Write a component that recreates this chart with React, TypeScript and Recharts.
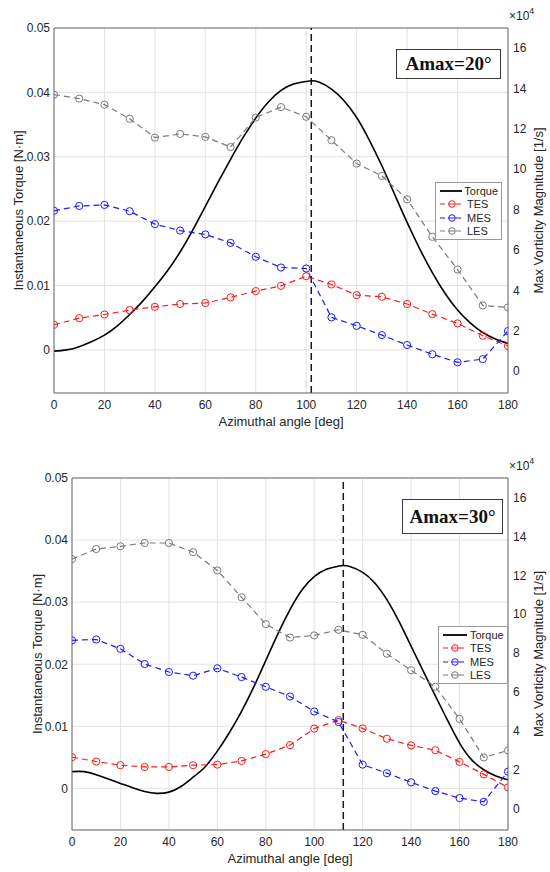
import React from 'react';
import {
  LineChart, Line, XAxis, YAxis, CartesianGrid, ReferenceLine, Legend,
} from 'recharts';

// azimuthal angles of the CFD snapshots [deg]
const angles = [0, 10, 20, 30, 40, 50, 60, 70, 80, 90, 100, 110, 120, 130, 140, 150, 160, 170, 180];

// Amax = 20 deg, max vorticity [x1e4 1/s]
const tes20 = [2.29, 2.62, 2.8, 3.02, 3.18, 3.32, 3.37, 3.65, 3.96, 4.22, 4.7, 4.29, 3.76, 3.68, 3.32, 2.82, 2.36, 1.75, 1.24];
const mes20 = [7.94, 8.18, 8.23, 7.92, 7.28, 6.96, 6.77, 6.35, 5.66, 5.13, 5.08, 2.66, 2.24, 1.78, 1.29, 0.83, 0.43, 0.59, 1.98];
const les20 = [13.7, 13.5, 13.2, 12.5, 11.57, 11.75, 11.6, 11.1, 12.56, 13.08, 12.6, 11.44, 10.28, 9.67, 8.51, 6.65, 5.03, 3.25, 3.15];

// Amax = 30 deg
const tes30 = [2.65, 2.43, 2.24, 2.15, 2.15, 2.24, 2.27, 2.46, 2.81, 3.27, 4.12, 4.56, 4.13, 3.6, 3.26, 3.01, 2.41, 1.77, 1.1];
const mes30 = [8.66, 8.7, 8.22, 7.44, 7.03, 6.84, 7.22, 6.77, 6.27, 5.77, 5.0, 4.46, 2.27, 1.83, 1.36, 0.91, 0.55, 0.36, 1.91];
const les30 = [12.83, 13.35, 13.49, 13.66, 13.66, 13.19, 12.25, 10.87, 9.49, 8.8, 8.91, 9.2, 8.94, 7.97, 7.12, 6.27, 4.62, 2.64, 3.0];

// instantaneous torque [N·m]
const torqueAngles20 = [0, 5, 10, 15, 20, 25, 30, 35, 40, 45, 50, 55, 60, 65, 70, 75, 80, 85, 90, 95, 100, 102, 105, 110, 115, 120, 125, 130, 135, 140, 145, 150, 155, 160, 165, 170, 175, 180];
const torque20 = [-0.0002, 0.0, 0.0005, 0.0013, 0.0023, 0.0037, 0.0055, 0.0075, 0.0098, 0.0123, 0.0152, 0.0186, 0.0223, 0.026, 0.0296, 0.033, 0.036, 0.0385, 0.0403, 0.0413, 0.0417, 0.0418, 0.0416, 0.0405, 0.0387, 0.0361, 0.0326, 0.0286, 0.0242, 0.0198, 0.0157, 0.012, 0.0088, 0.0062, 0.0042, 0.0027, 0.0017, 0.001];
const torqueAngles30 = [0, 5, 10, 15, 20, 25, 30, 35, 40, 45, 50, 55, 60, 65, 70, 75, 80, 85, 90, 95, 100, 105, 110, 112, 115, 120, 125, 130, 135, 140, 145, 150, 155, 160, 165, 170, 175, 180];
const torque30 = [0.0027, 0.0027, 0.0022, 0.0015, 0.0008, 0.0001, -0.0005, -0.0008, -0.0006, 0.0003, 0.0018, 0.0035, 0.006, 0.009, 0.0124, 0.0163, 0.0206, 0.0249, 0.0288, 0.032, 0.0341, 0.0353, 0.0358, 0.0359, 0.0357, 0.0348, 0.0331, 0.0304, 0.0269, 0.0229, 0.0189, 0.0149, 0.011, 0.0073, 0.0046, 0.003, 0.002, 0.0014];

const xTicks = [0, 20, 40, 60, 80, 100, 120, 140, 160, 180];
const leftTicks = [0, 0.01, 0.02, 0.03, 0.04, 0.05];
const rightTicks = [0, 2, 4, 6, 8, 10, 12, 14, 16];

const FONT = '"Liberation Sans", Arial, sans-serif';
const INK = '#262626';
const AXIS = '#6b6b6b';
const RED = '#ff1a1a';
const BLUE = '#1a1aff';
const GRAY = '#7a7a7a';

const toPts = (xs: number[], ys: number[]) => xs.map((x, i) => ({ x, y: ys[i] }));

const tickStyle = { fontSize: 12, fill: INK, fontFamily: FONT };

const leftTitle = (cx: number) => (props: any) => {
  const vb = props.viewBox;
  const cy = vb.y + vb.height / 2;
  return (
    <text x={cx} y={cy} transform={`rotate(-90 ${cx} ${cy})`} textAnchor="middle"
      dominantBaseline="central" fontSize={13} fill={INK} fontFamily={FONT}>
      Instantaneous Torque [N·m]
    </text>
  );
};

const rightTitle = (props: any) => {
  const vb = props.viewBox;
  const cx = 538;
  const cy = vb.y + vb.height / 2;
  return (
    <g>
      <text x={cx} y={cy} transform={`rotate(-90 ${cx} ${cy})`} textAnchor="middle"
        dominantBaseline="central" fontSize={13} fill={INK} fontFamily={FONT}>
        Max Vorticity Magnitude [1/s]
      </text>
      <text x={509} y={vb.y - 8} fontSize={12} fill={INK} fontFamily={FONT}>
        ×10<tspan dy={-6} fontSize={9}>4</tspan>
      </text>
    </g>
  );
};

const xTitle = (props: any) => {
  const vb = props.viewBox;
  return (
    <text x={vb.x + vb.width / 2} y={vb.y + 28} textAnchor="middle" dominantBaseline="central"
      fontSize={13} fill={INK} fontFamily={FONT}>
      Azimuthal angle [deg]
    </text>
  );
};

const legendItems = [
  { name: 'Torque', color: '#000', marker: false },
  { name: 'TES', color: RED, marker: true },
  { name: 'MES', color: BLUE, marker: true },
  { name: 'LES', color: GRAY, marker: true },
];

const LegendBox = () => (
  <div style={{ border: '1px solid #9a9a9a', background: '#fff', padding: '1px 3px', fontFamily: FONT, fontSize: 11, color: INK }}>
    {legendItems.map(it => (
      <div key={it.name} style={{ display: 'flex', alignItems: 'center', height: 13.5 }}>
        <svg width={26} height={10} style={{ marginRight: 2 }}>
          <line x1={1} x2={25} y1={5} y2={5} stroke={it.color} strokeWidth={it.marker ? 1.2 : 1.8}
            strokeDasharray={it.marker ? '5 3' : undefined} />
          {it.marker && <circle cx={13} cy={5} r={3.3} fill="#fff" stroke={it.color} />}
          {it.marker && <line x1={10} x2={16} y1={5} y2={5} stroke={it.color} />}
        </svg>
        {it.name}
      </div>
    ))}
  </div>
);

const seriesLine = (key: string, data: any[], color: string) => (
  <Line key={key} data={data} dataKey="y" xAxisId="x" yAxisId="right" type="linear" stroke={color}
    strokeWidth={1.2} strokeDasharray="6 4" isAnimationActive={false}
    dot={{ r: 3.6, fill: 'none', stroke: color, strokeWidth: 1, strokeDasharray: 'none' }} />
);

interface PanelProps {
  top: number;
  height: number;
  marginTop: number;
  leftWidth: number;
  leftTitleX: number;
  peak: number;
  torqueAngles: number[];
  torque: number[];
  tes: number[];
  mes: number[];
  les: number[];
  legendPos: { left: number; top: number; width: number };
  boxPos: { left: number; top: number; width: number; height: number };
  amax: string;
}

const Panel: React.FC<PanelProps> = p => (
  <div style={{ position: 'absolute', left: 0, top: p.top, width: 550, height: p.height }}>
    <LineChart width={550} height={p.height} margin={{ top: p.marginTop, right: 0, bottom: 0, left: 0 }}>
      <CartesianGrid xAxisId="x" yAxisId="left" stroke="#e2e2e2" />
      <XAxis xAxisId="x" dataKey="x" type="number" domain={[0, 180]} ticks={xTicks} height={40}
        tickLine={false} tickSize={0} tickMargin={7} tick={tickStyle}
        axisLine={{ stroke: AXIS }} allowDataOverflow label={{ content: xTitle }} />
      <YAxis yAxisId="left" orientation="left" type="number" domain={[-0.0067, 0.05]} ticks={leftTicks}
        width={p.leftWidth} tickLine={false} tickSize={0} tickMargin={4} tick={tickStyle}
        axisLine={{ stroke: AXIS }} allowDataOverflow label={{ content: leftTitle(p.leftTitleX) }} />
      <YAxis yAxisId="right" orientation="right" type="number" domain={[-1.09, 17]} ticks={rightTicks}
        width={42} tickLine={false} tickSize={0} tickMargin={5} tick={tickStyle}
        axisLine={{ stroke: AXIS }} allowDataOverflow label={{ content: rightTitle }} />
      <ReferenceLine xAxisId="x" yAxisId="left" y={0.05} stroke={AXIS} />
      <ReferenceLine xAxisId="x" yAxisId="left" x={p.peak} stroke="#1a1a1a" strokeWidth={1.5} strokeDasharray="7 4" />
      <Line data={toPts(p.torqueAngles, p.torque)} dataKey="y" xAxisId="x" yAxisId="left" type="natural"
        stroke="#000" strokeWidth={1.6} dot={false} isAnimationActive={false} />
      {seriesLine('tes', toPts(angles, p.tes), RED)}
      {seriesLine('mes', toPts(angles, p.mes), BLUE)}
      {seriesLine('les', toPts(angles, p.les), GRAY)}
      <Legend layout="vertical" align="center" verticalAlign="middle" content={() => <LegendBox />}
        wrapperStyle={{ left: p.legendPos.left, top: p.legendPos.top, width: p.legendPos.width }} />
    </LineChart>
    <div style={{
      position: 'absolute', left: p.boxPos.left, top: p.boxPos.top, width: p.boxPos.width, height: p.boxPos.height,
      border: '1px solid #3a3a3a', background: '#fff', boxSizing: 'border-box', display: 'flex',
      alignItems: 'center', justifyContent: 'center', fontFamily: '"Liberation Serif", "Times New Roman", serif',
      fontWeight: 'bold', fontSize: 19, color: '#111',
    }}>
      {p.amax}
    </div>
  </div>
);

export default function App() {
  return (
    <div style={{ position: 'absolute', left: 0, top: 0, width: 550, height: 872, background: '#fff' }}>
      <Panel top={0} height={433} marginTop={28} leftWidth={54} leftTitleX={18} peak={102}
        torqueAngles={torqueAngles20} torque={torque20} tes={tes20} mes={mes20} les={les20}
        legendPos={{ left: 435, top: 182, width: 67 }}
        boxPos={{ left: 396, top: 49, width: 105, height: 30 }} amax="Amax=20°" />
      <Panel top={440} height={430} marginTop={38} leftWidth={72} leftTitleX={37} peak={112}
        torqueAngles={torqueAngles30} torque={torque30} tes={tes30} mes={mes30} les={les30}
        legendPos={{ left: 438, top: 186, width: 70 }}
        boxPos={{ left: 402, top: 59, width: 101, height: 35 }} amax="Amax=30°" />
    </div>
  );
}
